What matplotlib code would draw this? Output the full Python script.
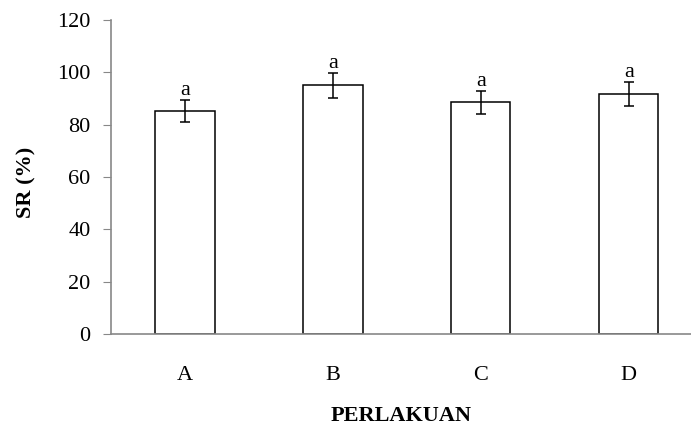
import numpy as np
import matplotlib
matplotlib.use('Agg')
import matplotlib.pyplot as plt

plt.rcParams['font.family'] = ['Liberation Serif', 'DejaVu Serif']

# data
perlakuan = ['A', 'B', 'C', 'D']
sr = [85.2, 95.1, 88.5, 91.8]
sr_err = [4.3, 4.8, 4.3, 4.5]
notasi = ['a', 'a', 'a', 'a']

fig = plt.figure(figsize=(6.91, 4.25), dpi=100)
ax = fig.add_axes([0.1606, 0.2141, 0.8394, 0.7388])

x = np.arange(len(perlakuan))
ax.bar(x, sr, width=0.4, color='white', edgecolor='black', linewidth=1.1, zorder=2)
ax.errorbar(x, sr, yerr=sr_err, fmt='none', ecolor='black', elinewidth=1.1,
            capsize=3.6, capthick=1.1, zorder=3)

for xi, yi, ei, t in zip(x, sr, sr_err, notasi):
    ax.annotate(t, (xi, yi + ei), xytext=(0, 0), textcoords='offset points',
                ha='center', va='bottom', fontsize=16)

ax.set_xlim(-0.5, 3.42)
ax.set_ylim(0, 120)
ax.set_yticks(np.arange(0, 121, 20))
ax.set_xticks(x)
ax.set_xticklabels(perlakuan, fontsize=16)
ax.tick_params(axis='x', length=0, pad=23)
ax.tick_params(axis='y', length=5.8, color='#888888', labelsize=16, pad=9)

for s in ['top', 'right']:
    ax.spines[s].set_visible(False)
for s in ['left', 'bottom']:
    ax.spines[s].set_color('#888888')
    ax.spines[s].set_linewidth(1.2)

ax.set_ylabel('SR (%)', fontsize=16, fontweight='bold')
ax.yaxis.set_label_coords(-0.128, 0.484)
ax.set_xlabel('PERLAKUAN', fontsize=16, fontweight='bold', labelpad=15)

fig.savefig('out.png', dpi=100)
